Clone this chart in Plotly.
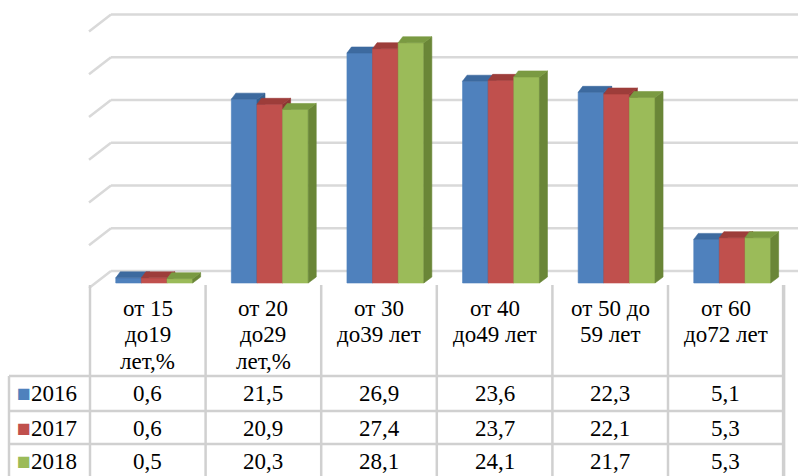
import plotly.graph_objects as go

# ---------------- data ----------------
years = ["2016", "2017", "2018"]
header_lines = [
    ["от 15", "до19", "лет,%"],
    ["от 20", "до29", "лет,%"],
    ["от 30", "до39 лет"],
    ["от 40", "до49 лет"],
    ["от 50 до", "59 лет"],
    ["от 60", "до72 лет"],
]
v2016 = [0.6, 21.5, 26.9, 23.6, 22.3, 5.1]
v2017 = [0.6, 20.9, 27.4, 23.7, 22.1, 5.3]
v2018 = [0.5, 20.3, 28.1, 24.1, 21.7, 5.3]
series = [v2016, v2017, v2018]
y_ticks = [0, 5, 10, 15, 20, 25, 30]

# ---------------- styles ----------------
front_colors = ["#4F81BD", "#C0504D", "#9BBB59"]
top_colors = ["#3D6A9F", "#9D3D3A", "#7A9A42"]
side_colors = ["#36608F", "#8C3533", "#6A8637"]
grid_color = "#D9D9D9"
table_color = "#D0D0D0"
FONT = "Times New Roman, Liberation Serif, DejaVu Serif, serif"
FS = 23

W, H = 798, 476
PX_X = 115.6      # pixels per category
X0_PX = 154.2     # pixel of first category centre
PX_Y = 8.55       # pixels per value unit
Y0_PX = 283.0     # pixel (from top) of value 0

x_range = [-X0_PX / PX_X, (W - X0_PX) / PX_X]
y_range = [-(H - Y0_PX) / PX_Y, Y0_PX / PX_Y]


def px2x(px):
    return (px - X0_PX) / PX_X


def py2y(py):
    return (Y0_PX - py) / PX_Y


group_w = 0.665
bar_w = group_w / 3
dy = 6 / PX_Y
dxl = 4.5 / PX_X
dxr = 8 / PX_X
col_left = (90 - X0_PX) / PX_X   # left edge of first table column (x units)

fig = go.Figure()

ncat = len(header_lines)
for k, vals in enumerate(series):
    fx, fy, sx, sy, tx, ty = [], [], [], [], [], []
    for i, v in enumerate(vals):
        xl = i - group_w / 2 + k * bar_w
        xr = xl + bar_w
        # front face
        fx += [xl, xl, xr, xr, xl, None]
        fy += [0, v, v, 0, 0, None]
        # side face
        sx += [xr, xr + dxr, xr + dxr, xr, xr, None]
        sy += [0, dy, v + dy, v, 0, None]
        # top face
        tx += [xl, xl + dxl, xr + dxr, xr, xl, None]
        ty += [v, v + dy, v + dy, v, v, None]
    for xs, ys, col in ((fx, fy, front_colors[k]), (sx, sy, side_colors[k]), (tx, ty, top_colors[k])):
        fig.add_trace(go.Scatter(
            x=xs, y=ys, mode="lines", fill="toself", fillcolor=col,
            line=dict(color=col, width=0.6), hoverinfo="skip", showlegend=False,
        ))

shapes = []
# back wall gridlines + side diagonals
xb = px2x(111)
back_dy = 12 / PX_Y
for g in y_ticks:
    yb = g + back_dy
    shapes.append(dict(type="line", xref="x", yref="y", x0=xb, x1=x_range[1], y0=yb, y1=yb,
                       line=dict(color=grid_color, width=2.5), layer="below"))
    shapes.append(dict(type="line", xref="x", yref="y", x0=xb, x1=xb - 22 / PX_X, y0=yb, y1=yb - 17 / PX_Y,
                       line=dict(color=grid_color, width=2.5), layer="below"))

# table vertical lines
for i in range(ncat + 1):
    xv = i + col_left
    shapes.append(dict(type="line", xref="x", yref="y", x0=xv, x1=xv, y0=py2y(285), y1=py2y(H),
                       line=dict(color=table_color, width=2.5 if i < ncat else 3.5)))
# table horizontal lines
for py in [376, 411, 444]:
    shapes.append(dict(type="line", xref="x", yref="y", x0=px2x(9), x1=px2x(784), y0=py2y(py), y1=py2y(py),
                       line=dict(color=table_color, width=2.5)))
# legend column left border
shapes.append(dict(type="line", xref="x", yref="y", x0=px2x(9), x1=px2x(9), y0=py2y(376), y1=py2y(H),
                   line=dict(color=table_color, width=2.5)))

annotations = []
# header labels
for i, lines in enumerate(header_lines):
    xc = i + col_left + 0.5
    for j, line in enumerate(lines):
        annotations.append(dict(x=xc, y=py2y(308 + 26.5 * j), xref="x", yref="y", text=line,
                                showarrow=False, xanchor="center", yanchor="middle",
                                font=dict(family=FONT, size=FS, color="black")))
# table rows
row_py = [393, 428, 461]
for k, vals in enumerate(series):
    annotations.append(dict(x=px2x(15), y=py2y(row_py[k]), xref="x", yref="y",
                            text=f"<span style='color:{front_colors[k]}'>■</span>{years[k]}",
                            showarrow=False, xanchor="left", yanchor="middle",
                            font=dict(family=FONT, size=FS, color="black")))
    for i, v in enumerate(vals):
        xc = i + col_left + 0.5
        annotations.append(dict(x=xc, y=py2y(row_py[k]), xref="x", yref="y",
                                text=f"{v:.1f}".replace(".", ","),
                                showarrow=False, xanchor="center", yanchor="middle",
                                font=dict(family=FONT, size=FS, color="black")))

fig.update_layout(
    width=W, height=H,
    margin=dict(l=0, r=0, t=0, b=0),
    paper_bgcolor="white", plot_bgcolor="white",
    font=dict(family=FONT, size=FS, color="black"),
    xaxis=dict(range=x_range, visible=False, showgrid=False, zeroline=False, fixedrange=True),
    yaxis=dict(range=y_range, visible=False, showgrid=False, zeroline=False, fixedrange=True),
    shapes=shapes, annotations=annotations,
    showlegend=False,
)

fig.write_html("out.html")
